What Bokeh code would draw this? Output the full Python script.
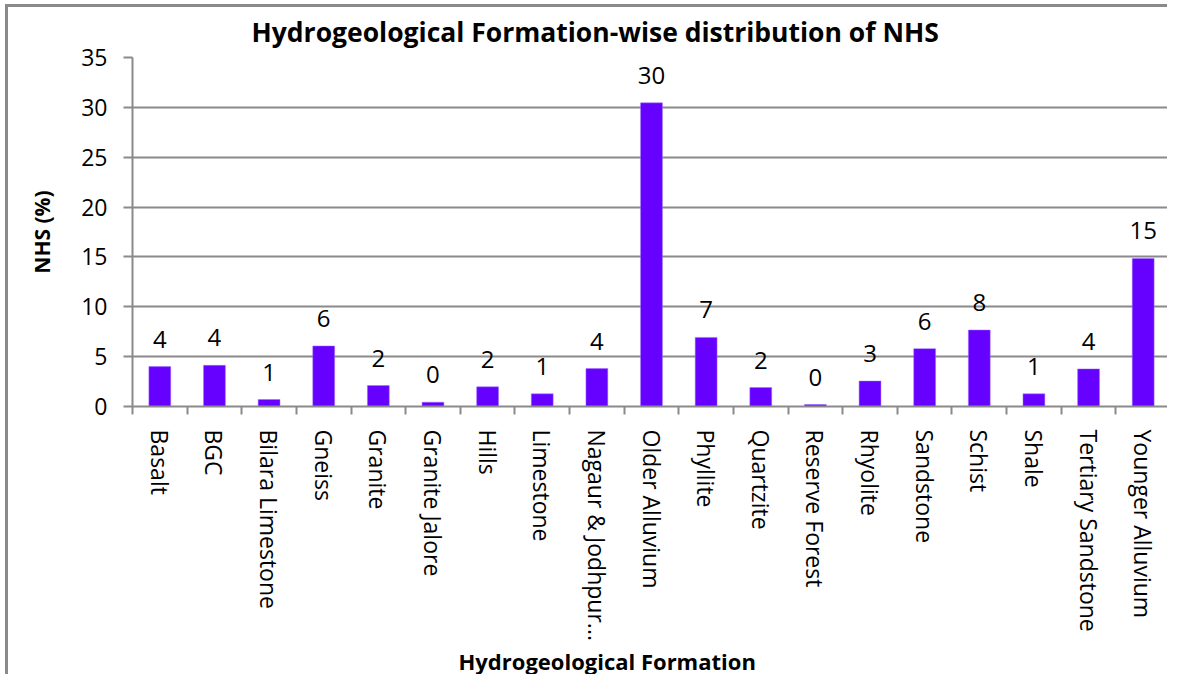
import math
from bokeh.plotting import figure
from bokeh.models import ColumnDataSource, LabelSet, FixedTicker, Range1d, Title
from bokeh.core.properties import value
from bokeh.embed import file_html
from bokeh.resources import INLINE

categories = ["Basalt", "BGC", "Bilara Limestone", "Gneiss", "Granite", "Granite Jalore",
              "Hills", "Limestone", "Nagaur & Jodhpur...", "Older Alluvium", "Phyllite",
              "Quartzite", "Reserve Forest", "Rhyolite", "Sandstone", "Schist", "Shale",
              "Tertiary Sandstone", "Younger Alluvium"]
values = [4.0, 4.13, 0.7, 6.07, 2.1, 0.43, 1.97, 1.27, 3.8, 30.45, 6.93, 1.9, 0.2,
          2.55, 5.8, 7.67, 1.27, 3.77, 14.85]
y_ticks = [0, 5, 10, 15, 20, 25, 30, 35]

title_text = "Hydrogeological Formation-wise distribution of NHS"
x_title = "Hydrogeological Formation"
y_title = "NHS (%)"

FONT = "Open Sans"
GRAY = "#8a8a8a"

n = len(categories)
centers = [i + 0.5 for i in range(n)]
bounds = [i for i in range(n + 1)]
labels = [f"{v:.0f}" for v in values]

src = ColumnDataSource(dict(x=centers, top=values, lab=labels))

p = figure(width=1162, height=670, output_backend="svg", toolbar_location=None,
           x_range=Range1d(0, n), y_range=Range1d(0, 35),
           min_border_left=124, min_border_right=0, min_border_top=50, min_border_bottom=271,
           styles={"border-left": "3px solid #8a8a8a", "border-top": "3px solid #8a8a8a",
                   "margin-left": "5px", "margin-top": "4px", "margin-bottom": "-12px"})

p.vbar(x="x", top="top", width=0.4, bottom=0, source=src, fill_color="#6600ff",
       line_color="#9d70ff", line_width=0.5)

p.add_layout(LabelSet(x="x", y="top", text="lab", source=src, text_align="center",
                      text_baseline="alphabetic", y_offset=19, text_font=value(FONT),
                      text_font_size="24px", text_color="black"))

p.outline_line_color = None
p.background_fill_color = "white"
p.border_fill_color = "white"

# title
p.title.text = title_text
p.title.text_font = FONT
p.title.text_font_size = "26.5px"
p.title.text_font_style = "bold"
p.title.text_color = "black"
p.title.align = "left"
p.title.offset = 119
p.title.vertical_align = "top"
p.title.standoff = 12

# x axis
xa = p.xaxis[0]
xa.ticker = FixedTicker(ticks=centers, minor_ticks=bounds)
xa.major_label_overrides = {c: cat for c, cat in zip(centers, categories)}
xa.major_label_orientation = -math.pi / 2
xa.major_tick_line_color = None
xa.minor_tick_line_color = GRAY
xa.minor_tick_line_width = 2
xa.minor_tick_in = 0
xa.minor_tick_out = 8
xa.axis_line_color = GRAY
xa.axis_line_width = 2
xa.major_label_text_font = FONT
xa.major_label_text_font_size = "23px"
xa.major_label_text_color = "black"
xa.major_label_standoff = 15

p.add_layout(Title(text=x_title, text_font=FONT, text_font_size="22px",
                   text_font_style="bold", text_color="black", align="left",
                   offset=326, standoff=0), "below")

# y axis
ya = p.yaxis[0]
ya.ticker = FixedTicker(ticks=y_ticks)
ya.minor_tick_line_color = None
ya.major_tick_line_color = GRAY
ya.major_tick_line_width = 2
ya.major_tick_in = 0
ya.major_tick_out = 9
ya.axis_line_color = GRAY
ya.axis_line_width = 2
ya.major_label_text_font = FONT
ya.major_label_text_font_size = "23px"
ya.major_label_text_color = "black"
ya.major_label_standoff = 16
ya.axis_label = y_title
ya.axis_label_text_font = FONT
ya.axis_label_text_font_style = "bold"
ya.axis_label_text_font_size = "21px"
ya.axis_label_text_color = "black"
ya.axis_label_standoff = 22

p.xgrid.grid_line_color = None
p.ygrid.ticker = FixedTicker(ticks=y_ticks[1:])
p.ygrid.grid_line_color = GRAY
p.ygrid.grid_line_width = 2

open("out.html", "w").write(file_html(p, INLINE))
